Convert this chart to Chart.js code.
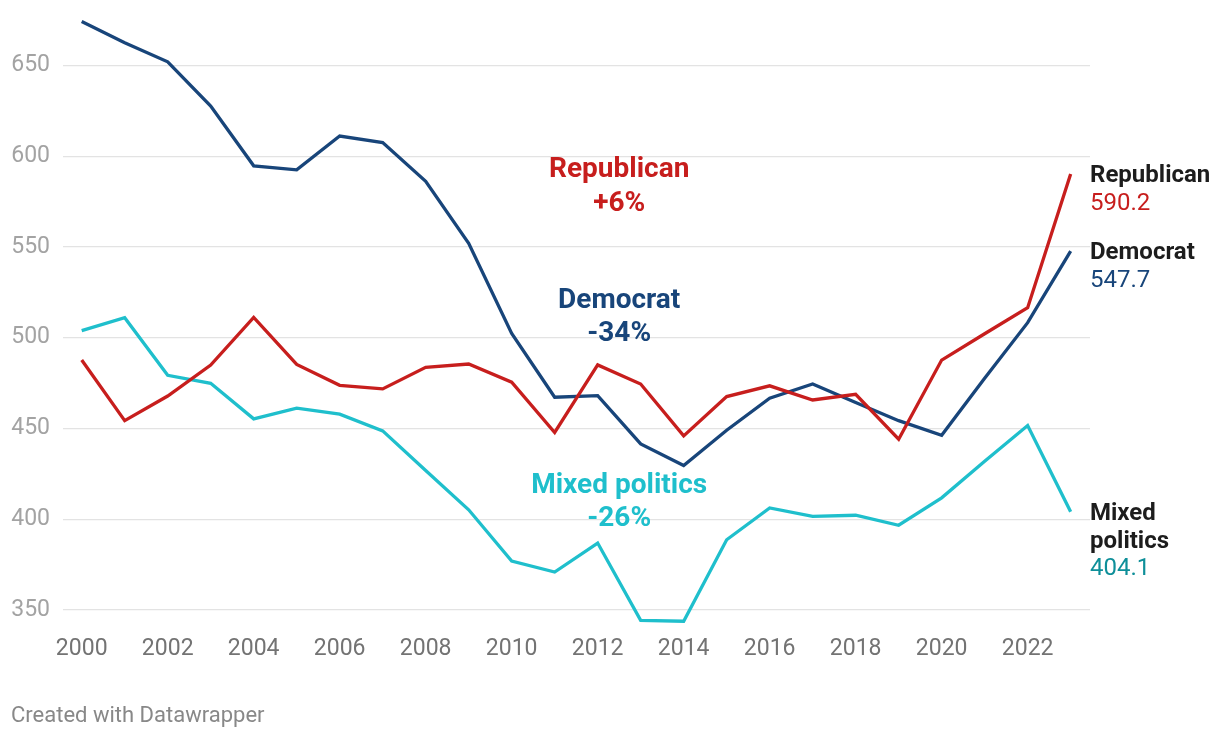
<!DOCTYPE html>
<html>
<head>
<meta charset="utf-8">
<script src="https://cdn.jsdelivr.net/npm/chart.js@4.4.1/dist/chart.umd.min.js"></script>
<style>
  html, body { margin: 0; padding: 0; background: #fff; }
  #wrap { position: relative; width: 1220px; height: 738px; }
</style>
</head>
<body>
<div id="wrap"><canvas id="c" width="1220" height="738"></canvas></div>
<script>
const years = [2000,2001,2002,2003,2004,2005,2006,2007,2008,2009,2010,2011,2012,2013,2014,2015,2016,2017,2018,2019,2020,2021,2022,2023];
const democrat = [674.2,662.5,652.0,627.6,594.7,592.5,611.1,607.5,586.2,552.0,502.4,467.2,468.1,441.5,429.6,449.0,466.7,474.5,464.3,454.3,446.3,477.7,508.3,547.7];
const republican = [487.7,454.3,467.9,484.9,511.2,485.3,473.8,471.8,483.7,485.5,475.5,447.8,485.0,474.5,445.9,467.6,473.5,465.7,468.8,444.1,487.7,502.2,516.5,590.2];
const mixed = [503.9,511.0,479.3,474.9,455.3,461.2,457.9,448.7,426.9,405.2,377.0,370.9,386.9,344.3,343.8,388.7,406.2,401.6,402.2,396.7,411.8,432.0,451.6,404.1];
const xTicks = [2000,2002,2004,2006,2008,2010,2012,2014,2016,2018,2020,2022];
const yTicks = [350,400,450,500,550,600,650];

const seriesNames = [["Republican"],["Democrat"],["Mixed","politics"]];
const seriesColors = ["#c71e1d","#18457a","#1fbfcc"];
const valueColors = ["#c71e1d","#18457a","#0e8f99"];
const annotations = [
  {x: 2012.5, y: 588.3, lines: ["Republican","+6%"], color: "#c71e1d"},
  {x: 2012.5, y: 516.5, lines: ["Democrat","-34%"], color: "#18457a"},
  {x: 2012.5, y: 414.7, lines: ["Mixed politics","-26%"], color: "#1fbfcc"}
];

const toPts = arr => arr.map((v,i)=>({x: years[i], y: v}));

const labelPlugin = {
  id: 'labels',
  afterDatasetsDraw(chart) {
    const ctx = chart.ctx;
    const xs = chart.scales.x, ys = chart.scales.y;
    ctx.save();
    annotations.forEach(a => {
      const px = xs.getPixelForValue(a.x);
      const py = ys.getPixelForValue(a.y);
      ctx.font = 'bold 28px Roboto';
      ctx.fillStyle = a.color;
      ctx.textAlign = 'center';
      ctx.textBaseline = 'alphabetic';
      a.lines.forEach((t, i) => ctx.fillText(t, px, py + i * 33.5));
    });
    const rx = chart.chartArea.right;
    chart.data.datasets.forEach((ds, di) => {
      const last = ds.data[ds.data.length - 1];
      const py = ys.getPixelForValue(last.y) + 8.3;
      ctx.textAlign = 'left';
      ctx.textBaseline = 'alphabetic';
      const names = seriesNames[di];
      ctx.font = 'bold 24px Roboto';
      ctx.fillStyle = '#1d1d1d';
      names.forEach((t, i) => ctx.fillText(t, rx, py + i * 27.5));
      ctx.font = '24px Roboto';
      ctx.fillStyle = valueColors[di];
      ctx.fillText(last.y.toFixed(1), rx, py + names.length * 27.5);
    });
    ctx.font = '22px Roboto';
    ctx.fillStyle = '#888888';
    ctx.textAlign = 'left';
    ctx.fillText('Created with Datawrapper', 11, 722);
    ctx.restore();
  }
};

new Chart(document.getElementById('c'), {
  type: 'line',
  data: {
    datasets: [
      {label: 'Republican', data: toPts(republican), borderColor: seriesColors[0]},
      {label: 'Democrat', data: toPts(democrat), borderColor: seriesColors[1]},
      {label: 'Mixed politics', data: toPts(mixed), borderColor: seriesColors[2]}
    ].map(d => Object.assign(d, {borderWidth: 3.3, pointRadius: 0, tension: 0, fill: false, clip: false, borderJoinStyle: 'miter', borderCapStyle: 'butt'}))
  },
  options: {
    responsive: false,
    animation: false,
    layout: {padding: {left: 0, right: 130, top: 11, bottom: 78}},
    plugins: {legend: {display: false}, tooltip: {enabled: false}},
    scales: {
      x: {
        type: 'linear',
        min: 1999.565,
        max: 2023.45,
        afterBuildTicks: s => { s.ticks = xTicks.map(v => ({value: v})); },
        afterFit: s => { s.height = 50; s.paddingLeft = 0; s.paddingRight = 0; },
        grid: {display: false, drawTicks: false},
        border: {display: false},
        ticks: {
          autoSkip: false, maxRotation: 0, padding: 25,
          color: '#737373',
          font: {family: 'Roboto', size: 23},
          callback: v => String(v)
        }
      },
      y: {
        min: 350,
        max: 680,
        afterBuildTicks: s => { s.ticks = yTicks.map(v => ({value: v})); },
        afterFit: s => { s.width = 63; s.paddingTop = 0; s.paddingBottom = 0; },
        grid: {color: '#e3e3e3', lineWidth: 1.3, drawTicks: false},
        border: {display: false},
        ticks: {
          padding: 13,
          color: '#a3a3a3',
          font: {family: 'Roboto', size: 23},
          callback: v => String(v)
        }
      }
    }
  },
  plugins: [labelPlugin]
});
</script>
</body>
</html>
